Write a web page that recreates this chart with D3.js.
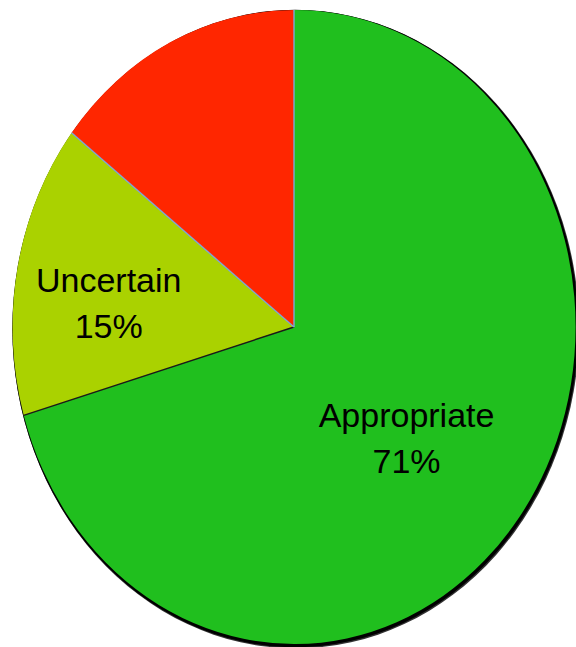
<!DOCTYPE html>
<html>
<head>
<meta charset="utf-8">
<script src="https://cdn.jsdelivr.net/npm/d3@7"></script>
<style>
  html, body { margin: 0; padding: 0; background: #ffffff; }
  svg { display: block; }
</style>
</head>
<body>
<svg id="chart" width="576" height="647"></svg>
<script>
// ---- data ----
const categories = ["Appropriate", "Uncertain", "Inappropriate"];
const values = [70.5, 15, 14.5];
const percentLabels = ["71%", "15%", ""];
const showLabel = [true, true, false];
const colors = ["#20bf1e", "#aad200", "#ff2600"];

// ---- layout ----
const W = 576, H = 647;
const cx = 294, cy = 327, rx = 281.5, ry = 317;

const svg = d3.select("#chart");

const pie = d3.pie().sort(null).value(d => d.value).startAngle(0).endAngle(2 * Math.PI);
const data = categories.map((c, i) => ({ name: c, value: values[i], pct: percentLabels[i], show: showLabel[i], color: colors[i] }));
const arcs = pie(data);

const arc = d3.arc().innerRadius(0).outerRadius(1);

// soft shadow / outline
svg.append("ellipse")
  .attr("cx", cx + 1.8).attr("cy", cy + 2.2)
  .attr("rx", rx + 1.8).attr("ry", ry + 2.2)
  .attr("fill", "#333");
svg.append("ellipse")
  .attr("cx", cx + 1.2).attr("cy", cy + 1.5)
  .attr("rx", rx + 1.4).attr("ry", ry + 1.7)
  .attr("fill", "#000");

const g = svg.append("g")
  .attr("transform", `translate(${cx},${cy}) scale(${rx},${ry})`);

g.selectAll("path.slice")
  .data(arcs)
  .join("path")
  .attr("class", "slice")
  .attr("d", arc)
  .attr("fill", d => d.data.color);

// boundary lines between slices
const radial = (a) => [Math.sin(a), -Math.cos(a)];
const boundaries = [
  { angle: arcs[0].startAngle, color: "#7fa6d8" },   // red/green at top
  { angle: arcs[1].startAngle, color: "#1a1a1a" },   // green/yellow
  { angle: arcs[2].startAngle, color: "#7fa6d8" }    // yellow/red
];
g.selectAll("line.edge")
  .data(boundaries)
  .join("line")
  .attr("class", "edge")
  .attr("x1", 0).attr("y1", 0)
  .attr("x2", d => radial(d.angle)[0])
  .attr("y2", d => radial(d.angle)[1])
  .attr("stroke", d => d.color)
  .attr("stroke-width", 1.4)
  .attr("vector-effect", "non-scaling-stroke");

// labels
const labelRadius = [0.5, 0.67, 0.6];
arcs.forEach((a, i) => {
  if (!a.data.show) return;
  const mid = (a.startAngle + a.endAngle) / 2;
  const p = radial(mid);
  const x = cx + p[0] * labelRadius[i] * rx;
  const y = cy + p[1] * labelRadius[i] * ry;
  const t = svg.append("text")
    .attr("x", x).attr("y", y)
    .attr("text-anchor", "middle")
    .attr("font-family", "'Liberation Sans', Arial, Helvetica, sans-serif")
    .attr("font-size", 34)
    .attr("fill", "#000");
  t.append("tspan").attr("x", x).attr("dy", 5).text(a.data.name);
  t.append("tspan").attr("x", x).attr("dy", 46).text(a.data.pct);
});
</script>
</body>
</html>
